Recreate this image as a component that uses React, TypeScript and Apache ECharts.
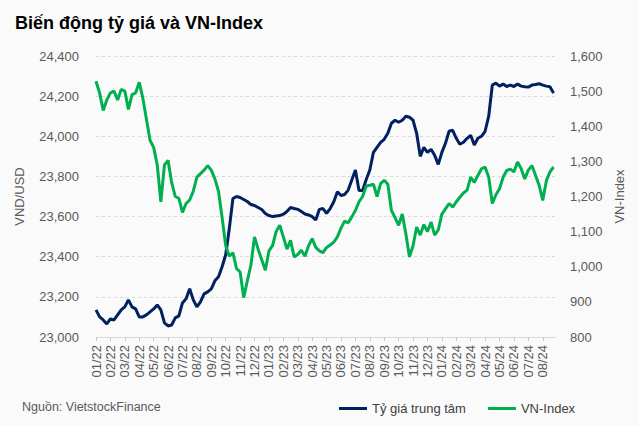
import React, { useEffect, useRef } from 'react';
import * as echarts from 'echarts';

const monthLabels = [
  '01/22', '02/22', '03/22', '04/22', '05/22', '06/22', '07/22', '08/22', '09/22', '10/22', '11/22', '12/22',
  '01/23', '02/23', '03/23', '04/23', '05/23', '06/23', '07/23', '08/23', '09/23', '10/23', '11/23', '12/23',
  '01/24', '02/24', '03/24', '04/24', '05/24', '06/24', '07/24', '08/24',
];

const fxRate = [
  23135, 23100, 23085, 23065,
  23090, 23085, 23110, 23135,
  23150, 23185, 23150, 23140,
  23100, 23100, 23110, 23125,
  23140, 23160, 23135, 23070,
  23055, 23060, 23095, 23105,
  23170, 23190, 23240, 23185,
  23150, 23175, 23215, 23225,
  23240, 23280, 23300, 23350,
  23410, 23540, 23690, 23700,
  23695, 23685, 23675, 23660,
  23655, 23645, 23635, 23615,
  23605, 23600, 23603, 23605,
  23612, 23625, 23645, 23640,
  23636, 23625, 23613, 23608,
  23600, 23583, 23636, 23640,
  23616, 23640, 23674, 23724,
  23705, 23710, 23732, 23782,
  23832, 23730, 23730, 23785,
  23832, 23920, 23945, 23970,
  23985, 24015, 24065, 24080,
  24070, 24080, 24100, 24095,
  24080, 24015, 23900, 23945,
  23920, 23935, 23905, 23860,
  23920, 23965, 24025, 24030,
  23990, 23960, 23970, 23990,
  24005, 23957, 23990, 24000,
  24025, 24100, 24255, 24265,
  24250, 24260, 24248, 24255,
  24248, 24260, 24250, 24247,
  24245, 24255, 24258, 24262,
  24255, 24250, 24247, 24215,
];

const vnIndex = [
  1528, 1495, 1445, 1475,
  1495, 1500, 1475, 1505,
  1500, 1448, 1490, 1495,
  1525, 1480, 1420, 1360,
  1340, 1290, 1185, 1290,
  1303, 1240, 1200, 1195,
  1155, 1180, 1190, 1215,
  1255, 1265, 1275, 1288,
  1275, 1250, 1215, 1140,
  1060, 1030, 1040, 995,
  985, 912, 960, 1005,
  1085, 1050, 1020, 990,
  1045, 1060, 1100, 1118,
  1085, 1050, 1075, 1028,
  1035, 1047, 1030, 1060,
  1080, 1055, 1045, 1040,
  1055, 1062, 1070, 1085,
  1110, 1130, 1125, 1142,
  1160, 1185, 1200, 1230,
  1232, 1235, 1200, 1237,
  1246, 1235, 1160, 1140,
  1118, 1150, 1094, 1028,
  1060, 1113, 1090, 1120,
  1100, 1127, 1090, 1105,
  1150, 1165, 1180, 1170,
  1185, 1198, 1210, 1218,
  1255, 1240, 1260, 1279,
  1284, 1255, 1180, 1205,
  1222, 1255, 1274, 1278,
  1270, 1298, 1280, 1250,
  1275, 1288, 1260, 1232,
  1189, 1245, 1270, 1284,
];

const seriesNames = ['Tỷ giá trung tâm', 'VN-Index'];
const STEP = 0.25;
const BG = '#fafafa';
const FONT = '"Liberation Sans", Arial, sans-serif';

const fmt = (v: number) => v.toLocaleString('en-US');

export default function App() {
  const ref = useRef<HTMLDivElement>(null);
  useEffect(() => {
    document.body.style.margin = '0';
    document.body.style.background = BG;
    const chart = echarts.init(ref.current!, null, { renderer: 'svg' });
    const tickIdx = monthLabels.map((_, i) => i);
    chart.setOption({
      animation: false,
      backgroundColor: BG,
      textStyle: { fontFamily: FONT },
      grid: { left: 96, right: 84, top: 56, bottom: 89 },
      title: {
        text: 'Biến động tỷ giá và VN-Index',
        left: 10,
        top: 9,
        textStyle: { fontSize: 18, fontWeight: 'bold', color: '#000', fontFamily: FONT },
      },
      legend: {
        data: seriesNames,
        left: 334,
        top: 397,
        icon: 'rect',
        itemWidth: 28,
        itemHeight: 3,
        itemGap: 22,
        textStyle: { fontSize: 13, color: '#404040', fontFamily: FONT },
      },
      graphic: [
        {
          type: 'text',
          left: 22,
          top: 400,
          style: { text: 'Nguồn: VietstockFinance', fontSize: 12.5, fill: '#595959', fontFamily: FONT },
        },
      ],
      xAxis: {
        type: 'value',
        min: 0,
        max: 31.85,
        axisLine: { lineStyle: { color: '#d9d9d9' } },
        axisTick: { customValues: tickIdx, length: 4, lineStyle: { color: '#c8c8c8' } },
        axisLabel: {
          customValues: tickIdx,
          rotate: 90,
          formatter: (v: number) => monthLabels[Math.round(v)] ?? '',
          fontSize: 13,
          color: '#595959',
          margin: 8,
        },
        splitLine: { show: false },
      },
      yAxis: [
        {
          type: 'value',
          min: 23000,
          max: 24400,
          interval: 200,
          name: 'VND/USD',
          nameLocation: 'middle',
          nameRotate: 90,
          nameGap: 70,
          nameTextStyle: { fontSize: 13, color: '#595959' },
          axisLine: { show: false },
          axisTick: { show: false },
          axisLabel: { formatter: fmt, fontSize: 13, color: '#595959', margin: 17 },
          splitLine: { lineStyle: { color: '#d9d9d9', type: [3, 3] } },
        },
        {
          type: 'value',
          min: 800,
          max: 1600,
          interval: 100,
          name: 'VN-Index',
          nameLocation: 'middle',
          nameRotate: 90,
          nameGap: 58,
          nameTextStyle: { fontSize: 13, color: '#595959' },
          axisLine: { show: false },
          axisTick: { show: false },
          axisLabel: { formatter: fmt, fontSize: 13, color: '#595959', margin: 15 },
          splitLine: { show: false },
        },
      ],
      series: [
        {
          name: seriesNames[0],
          type: 'line',
          yAxisIndex: 0,
          showSymbol: false,
          color: '#002060',
          lineStyle: { width: 3, color: '#002060' },
          data: fxRate.map((v, i) => [i * STEP, v]),
        },
        {
          name: seriesNames[1],
          type: 'line',
          yAxisIndex: 1,
          showSymbol: false,
          color: '#00b050',
          lineStyle: { width: 3, color: '#00b050' },
          data: vnIndex.map((v, i) => [i * STEP, v]),
        },
      ],
    });
    return () => chart.dispose();
  }, []);
  return <div ref={ref} style={{ width: 639, height: 426 }} />;
}
